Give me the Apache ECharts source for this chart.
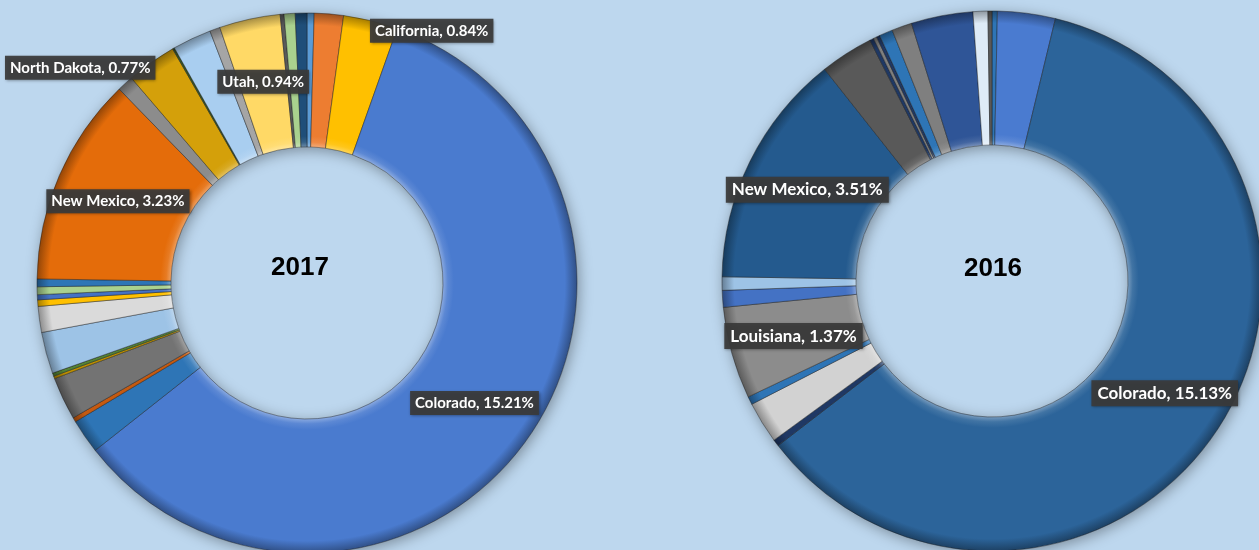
<!DOCTYPE html>
<html>
<head>
<meta charset="utf-8">
<script src="https://cdn.jsdelivr.net/npm/echarts@6/dist/echarts.min.js"></script>
<style>
html,body{margin:0;padding:0;background:#BDD7EE;}
#chart{width:1259px;height:550px;}
</style>
</head>
<body>
<div id="chart"></div>
<script>
// ---- 2017 (clockwise from 12 o'clock) ----
const names2017 = ['Other 1','Other 2','California','Colorado','Other 3','Other 4','Other 5','Other 6','Other 7','Other 8','Other 9','Other 10','Other 11','Other 12','Other 13','New Mexico','Other 14','North Dakota','Other 15','Other 16','Other 17','Utah','Other 18','Other 19','Other 20'];
const values2017 = [0.11, 0.45, 0.84, 15.21, 0.53, 0.07, 0.66, 0.04, 0.05, 0.64, 0.40, 0.10, 0.08, 0.12, 0.12, 3.23, 0.25, 0.77, 0.03, 0.60, 0.16, 0.94, 0.06, 0.17, 0.18];
const labeled2017 = ['California','Colorado','New Mexico','North Dakota','Utah'];

// ---- 2016 (clockwise from 12 o'clock) ----
const names2016 = ['Other 1','Other 2','Colorado','Other 3','Other 4','Other 5','Louisiana','Other 6','Other 7','New Mexico','Other 8','Other 9','Other 10','Other 11','Other 12','Other 13','Other 14','Other 15','Other 16'];
const values2016 = [0.08, 0.86, 15.13, 0.10, 0.62, 0.12, 1.37, 0.25, 0.20, 3.51, 0.79, 0.06, 0.05, 0.05, 0.20, 0.30, 0.92, 0.22, 0.06];
const labeled2016 = ['Colorado','Louisiana','New Mexico'];

const years = ['2017', '2016'];

// ---- styles (kept apart from the data) ----
const colors2017 = ['#5B9BD5','#ED7D31','#FFC000','#4A7BCF','#2E75B6','#C55A11','#737373','#BF9000','#548235','#9DC3E6','#DADADA','#FFC000','#4472C4','#A9D18E','#2E75B6','#E46C0A','#8C8C8C','#D4A00A','#385723','#A9CEF0','#A5A5A5','#FFD966','#595959','#A9D18E','#1F4E79'];
const colors2016 = ['#2E75B6','#4A7BD0','#2C649A','#1F3864','#D2D2D2','#2E75B6','#8C8C8C','#4472C4','#9DC3E6','#245A8E','#595959','#1F3864','#7F7F7F','#203864','#2E75B6','#7F7F7F','#2F5597','#DEEBF7','#595959'];
const labelOffsets2017 = {'California':[76,-52],'North Dakota':[-108,-47]};
const labelOffsets2016 = {};

const layout = [
  {cx:307, cy:283, r0:136, r:270, tx:300, ty:268, fs:15, pad:[5,5,4,5]},
  {cx:992, cy:281, r0:136, r:270, tx:993, ty:269, fs:17, pad:[5,6,4,6]}
];

function shade(hex, amt){
  let n = parseInt(hex.slice(1),16);
  let r=(n>>16)&255, g=(n>>8)&255, b=n&255;
  const f = c => amt>=0 ? Math.round(c+(255-c)*amt) : Math.round(c*(1+amt));
  return 'rgb('+f(r)+','+f(g)+','+f(b)+')';
}

const chart = echarts.init(document.getElementById('chart'));

function buildSeries(idx, names, values, colors, labeled, offsets){
  const L = layout[idx];
  const k = L.r0 / L.r;
  const data = names.map((n,i)=>{
    const c = colors[i];
    const grad = new echarts.graphic.RadialGradient(L.cx, L.cy, L.r, [
      {offset:k, color:shade(c,0.35)},
      {offset:k+0.018, color:shade(c,0.1)},
      {offset:k+0.04, color:c},
      {offset:0.955, color:c},
      {offset:1, color:shade(c,-0.35)}
    ], true);
    const show = labeled.indexOf(n) >= 0;
    return {
      name:n, value:values[i],
      itemStyle:{color:grad},
      label:{show:show, offset: offsets[n] || [0,0]}
    };
  });
  return [
    { // shadow ring underneath
      type:'pie', silent:true, z:1,
      center:[L.cx, L.cy], radius:[L.r0, L.r],
      label:{show:false}, labelLine:{show:false},
      itemStyle:{color:'#BDD7EE', shadowBlur:14, shadowColor:'rgba(0,0,0,0.35)', shadowOffsetX:2, shadowOffsetY:3},
      data:[{value:1, name:'ring'}],
      animation:false
    },
    {
      type:'pie', z:2,
      center:[L.cx, L.cy], radius:[L.r0, L.r],
      startAngle:90, clockwise:true,
      avoidLabelOverlap:false,
      animation:false,
      itemStyle:{borderColor:'rgba(25,25,25,0.55)', borderWidth:0.8},
      label:{
        position:'inside',
        formatter: p => p.name + ', ' + p.value.toFixed(2) + '%',
        color:'#FFFFFF',
        fontFamily:'Lato',
        fontWeight:'bold',
        fontSize:L.fs,
        backgroundColor:'rgba(58,58,58,0.93)',
        padding:L.pad,
        shadowColor:'rgba(0,0,0,0.45)', shadowBlur:3, shadowOffsetX:1, shadowOffsetY:1
      },
      labelLine:{show:false},
      emphasis:{disabled:true},
      data:data
    }
  ];
}

const option = {
  backgroundColor:'#BDD7EE',
  series:[
    ...buildSeries(0, names2017, values2017, colors2017, labeled2017, labelOffsets2017),
    ...buildSeries(1, names2016, values2016, colors2016, labeled2016, labelOffsets2016)
  ],
  graphic: years.map((y,i)=>({
    type:'text', x:layout[i].tx, y:layout[i].ty, z:10,
    style:{text:y, fill:'#000', font:'bold 26px "Liberation Sans", Arial', align:'center', verticalAlign:'middle'}
  }))
};
chart.setOption(option);
</script>
</body>
</html>
